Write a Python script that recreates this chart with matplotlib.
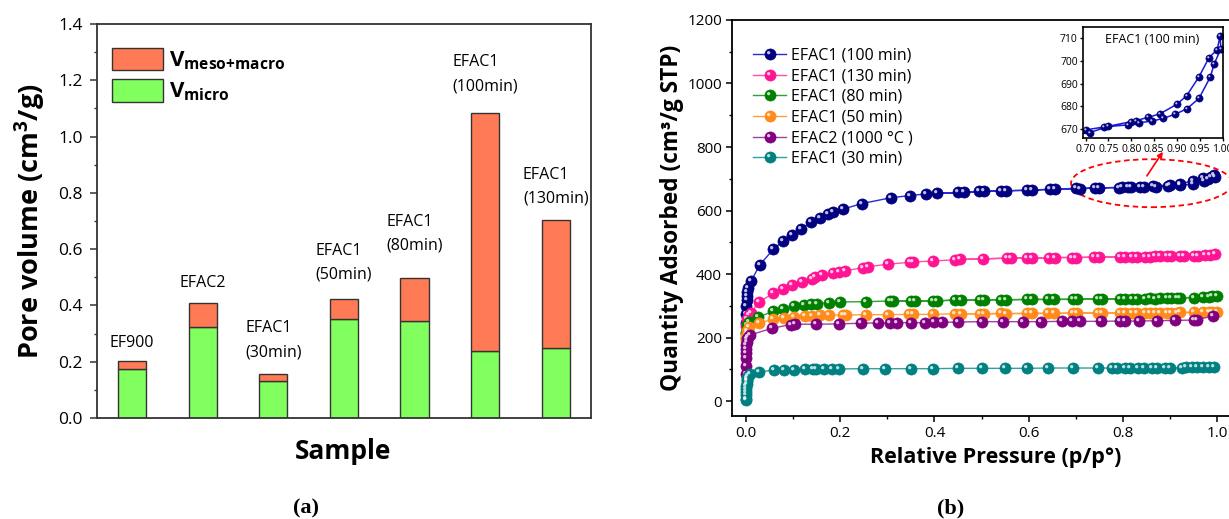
import matplotlib
matplotlib.use('Agg')
import matplotlib.pyplot as plt
from matplotlib.path import Path
from matplotlib.patches import Ellipse
from matplotlib.ticker import MultipleLocator, FormatStrFormatter

plt.rcParams['font.family'] = ['Open Sans', 'DejaVu Sans']
plt.rcParams['mathtext.default'] = 'regular'

# ---------------- (a) pore volume data ----------------
samples = ['EF900', 'EFAC2', 'EFAC1\n(30min)', 'EFAC1\n(50min)', 'EFAC1\n(80min)',
           'EFAC1\n(100min)', 'EFAC1\n(130min)']
v_micro = [0.174, 0.324, 0.133, 0.352, 0.346, 0.239, 0.248]
v_meso = [0.030, 0.086, 0.023, 0.071, 0.153, 0.844, 0.456]
label_y = [0.252, 0.467, 0.220, 0.496, 0.599, 1.165, 0.765]   # baseline of last text line

# ---------------- (b) isotherm data ----------------
p_100 = [0.0001, 0.0003, 0.0006, 0.001, 0.002, 0.003, 0.005, 0.0106, 0.0297, 0.058, 0.079,
         0.097, 0.117, 0.138, 0.157, 0.175, 0.184, 0.205, 0.246, 0.307, 0.347, 0.381, 0.451,
         0.495, 0.541, 0.597, 0.645, 0.700, 0.741, 0.792, 0.817, 0.845, 0.870, 0.895, 0.921,
         0.948, 0.973, 0.981, 0.996, 0.994,
         0.988, 0.970, 0.948, 0.921, 0.900, 0.863, 0.837, 0.810, 0.799, 0.750, 0.709, 0.656,
         0.607, 0.552, 0.506, 0.462, 0.405]
q_100 = [245, 275, 300, 318, 332, 343, 356, 378, 430, 478, 505,
         523, 543, 563, 577, 588, 595, 604, 622, 640, 647, 652, 657,
         660, 662, 664, 667, 669.7, 671, 671.9, 672.9, 673.5, 674.8, 676.5, 678.9,
         683.5, 693, 698.5, 705.4, 710.9,
         705, 701.4, 693, 684.7, 681, 676.8, 675.2, 673.8, 673.3, 671.3, 668.5, 667,
         664, 662, 660, 657, 654]

p_130 = [0.0001, 0.0005, 0.001, 0.003, 0.006, 0.0095, 0.028, 0.058, 0.078, 0.097, 0.118,
         0.139, 0.1465, 0.161, 0.184, 0.198, 0.210, 0.248, 0.258, 0.302, 0.347, 0.355, 0.396,
         0.444, 0.504, 0.553, 0.597, 0.643, 0.693, 0.739, 0.794, 0.819, 0.847, 0.868, 0.893,
         0.922, 0.950, 0.974, 0.996,
         0.985, 0.960, 0.930, 0.902, 0.879, 0.858, 0.829, 0.805, 0.750, 0.701, 0.655, 0.608,
         0.562, 0.454]
q_130 = [215, 235, 245, 258, 270, 277, 313, 339, 352, 365, 374,
         385, 392, 396, 402, 407, 410, 420, 423, 431, 437, 438, 441,
         445, 448, 450, 450, 452, 452, 453, 454, 455, 455, 456, 456,
         457, 458, 459, 462,
         460, 458, 457, 456, 456, 455, 455, 454, 453, 452, 452, 450,
         450, 446]

p_80 = [0.0001, 0.0005, 0.001, 0.003, 0.006, 0.026, 0.058, 0.078, 0.101, 0.124, 0.138,
        0.150, 0.176, 0.199, 0.254, 0.305, 0.351, 0.397,
        0.444, 0.497, 0.541, 0.597, 0.642, 0.695, 0.748, 0.794, 0.819, 0.847, 0.868, 0.893,
        0.916, 0.950, 0.971, 0.989, 0.999,
        0.982, 0.922, 0.902, 0.879, 0.858, 0.829, 0.805, 0.755, 0.702, 0.654, 0.607, 0.552,
        0.505, 0.456, 0.406, 0.358, 0.313]
q_80 = [200, 215, 225, 238, 250, 264, 283, 289, 299, 304, 307,
        307, 310, 312, 313, 315, 315, 315,
        318, 319, 319, 320, 320, 320, 321, 321, 322, 322, 322, 323,
        324, 326, 328, 330, 332,
        329, 325, 324, 323, 323, 322, 322, 321, 321, 320, 320, 319,
        319, 318, 316, 316, 315]

p_50 = [0.0001, 0.0005, 0.001, 0.003, 0.006, 0.028, 0.058, 0.080, 0.102, 0.125, 0.140,
        0.157, 0.176, 0.205, 0.212, 0.254, 0.302, 0.345, 0.355, 0.397,
        0.444, 0.497, 0.541, 0.597, 0.642, 0.695, 0.748, 0.794, 0.819, 0.847, 0.868, 0.893,
        0.916, 0.950, 0.971, 0.989, 0.999,
        0.982, 0.922, 0.902, 0.879, 0.858, 0.829, 0.805, 0.755, 0.702, 0.654, 0.607, 0.552,
        0.505, 0.456]
q_50 = [190, 205, 212, 222, 232, 245, 258, 262, 265, 268, 269,
        270, 270, 271, 271, 272, 272, 273, 273, 273,
        275, 275, 276, 276, 276, 277, 277, 277, 277, 278, 278, 278,
        278, 279, 279, 280, 281,
        280, 279, 278, 278, 278, 277, 277, 277, 276, 276, 276, 275,
        275, 275]

p_efac2 = [0.00001, 0.00003, 0.0001, 0.0002, 0.0004, 0.0007, 0.001, 0.002, 0.004, 0.0085,
           0.0545, 0.095, 0.103, 0.149, 0.197, 0.243, 0.280, 0.306, 0.320, 0.351, 0.380,
           0.398, 0.416, 0.451, 0.500, 0.546, 0.589, 0.627, 0.670, 0.691, 0.709, 0.753,
           0.794, 0.805, 0.835, 0.873, 0.911, 0.950, 0.957, 0.992]
q_efac2 = [85, 110, 135, 150, 165, 177, 185, 195, 202, 208,
           229, 241, 242, 242, 243, 245, 246, 246.7, 247, 247, 247,
           248, 248, 249, 250, 250, 250, 250, 251, 251, 251, 251,
           252, 252, 252, 253, 254, 255, 256, 268]

p_30 = [0.00001, 0.00003, 0.0001, 0.0002, 0.0004, 0.0007, 0.001, 0.0015, 0.002, 0.003,
        0.005, 0.0085, 0.028, 0.060, 0.081, 0.102, 0.125, 0.142, 0.148, 0.166, 0.183,
        0.197, 0.248, 0.296, 0.350, 0.396, 0.451, 0.500, 0.549, 0.597, 0.642, 0.695, 0.748,
        0.776, 0.787, 0.805, 0.816, 0.832, 0.844, 0.862, 0.872, 0.889, 0.900, 0.925, 0.935,
        0.946, 0.957, 0.971, 0.982, 0.993]
q_30 = [2, 8, 18, 28, 38, 48, 55, 62, 67, 73,
        79, 84, 92, 97, 99, 99, 101, 101, 101, 101, 101,
        101, 102, 102, 102, 102, 103, 103, 103, 103, 104, 104, 104,
        104, 104, 104, 104, 104, 105, 105, 105, 105, 105, 105, 106,
        106, 106, 107, 107, 108]

series = [
    (p_100, q_100, 'EFAC1 (100 min)', '#000080', '#2a2ad0'),
    (p_130, q_130, 'EFAC1 (130 min)', '#ff1493', '#ff4fa8'),
    (p_80, q_80, 'EFAC1 (80 min)', '#008000', '#33a033'),
    (p_50, q_50, 'EFAC1 (50 min)', '#ff8c1a', '#ffa040'),
    (p_efac2, q_efac2, 'EFAC2 (1000 °C )', '#800080', '#a040a0'),
    (p_30, q_30, 'EFAC1 (30 min)', '#008080', '#30a0a0'),
]

# inset: zoom on EFAC1 (100 min) high pressure region
p_zoom = p_100[27:52]
q_zoom = q_100[27:52]

# highlight spot for the "sphere" markers
spot = Path.make_compound_path(
    Path([(1, 1), (-1, -1)], [Path.MOVETO, Path.MOVETO]),
    Path.circle(center=(-0.33, 0.33), radius=0.3))

fig = plt.figure(figsize=(12.29, 5.19), dpi=100)

# ================= panel (a) =================
ax1 = fig.add_axes([0.0787, 0.1946, 0.4022, 0.7592])
x = range(1, len(samples) + 1)
b_micro = ax1.bar(x, v_micro, width=0.4, color='#80ff5f', edgecolor='#333333', linewidth=1.0)
b_meso = ax1.bar(x, v_meso, width=0.4, bottom=v_micro, color='#ff7b55',
                 edgecolor='#333333', linewidth=1.0)
for xi, s, ly in zip(x, samples, label_y):
    ax1.text(xi, ly, s, ha='center', va='baseline', multialignment='left',
             fontsize=11.5, linespacing=1.65)
ax1.set_xlim(0.5, 7.5)
ax1.set_ylim(0, 1.4)
ax1.set_xticks([])
ax1.yaxis.set_major_locator(MultipleLocator(0.2))
ax1.yaxis.set_minor_locator(MultipleLocator(0.1))
ax1.yaxis.set_major_formatter(FormatStrFormatter('%.1f'))
ax1.tick_params(axis='y', which='major', direction='out', length=5, width=1.1,
                labelsize=12.5, pad=5, color='#333333')
ax1.tick_params(axis='y', which='minor', direction='out', length=2.5, width=1.0, color='#333333')
for sp in ax1.spines.values():
    sp.set_color('#333333')
    sp.set_linewidth(1.3)
ax1.set_ylabel('Pore volume (cm$^3$/g)', fontsize=19.5, fontweight='bold')
ax1.yaxis.set_label_coords(-0.135, 0.5)
ax1.yaxis.label.set_verticalalignment('center')
ax1.set_xlabel('Sample', fontsize=19, fontweight='bold')
ax1.xaxis.set_label_coords(0.498, -0.086)
ax1.xaxis.label.set_verticalalignment('center')
ax1.legend([b_meso, b_micro], ['V$_{meso{+}macro}$', 'V$_{micro}$'],
           loc='upper left', bbox_to_anchor=(0.030, 0.94), frameon=False,
           prop={'size': 16, 'weight': 'bold'}, handlelength=2.3, handleheight=1.2,
           handletextpad=0.3, labelspacing=0.3, borderpad=0, borderaxespad=0)

# ================= panel (b) =================
ax2 = fig.add_axes([0.5954, 0.1985, 0.4083, 0.763])
handles = []
for p, q, lab, mc, lc in series:
    ln, = ax2.plot(p, q, '-', color=lc, lw=1.0, marker='o', markersize=8,
                   markerfacecolor=mc, markeredgecolor=mc, markeredgewidth=0.5)
    hl, = ax2.plot(p, q, ls='none', marker=spot, markersize=8, markerfacecolor='white',
                   markeredgewidth=0, alpha=0.75)
    handles.append((ln, hl))
ax2.set_xlim(-0.0304, 1.035)
ax2.set_ylim(-47, 1200)
ax2.xaxis.set_major_locator(MultipleLocator(0.2))
ax2.xaxis.set_minor_locator(MultipleLocator(0.1))
ax2.xaxis.set_major_formatter(FormatStrFormatter('%.1f'))
ax2.yaxis.set_major_locator(MultipleLocator(200))
ax2.yaxis.set_minor_locator(MultipleLocator(100))
ax2.tick_params(which='major', direction='out', length=4, width=1.1, labelsize=11, pad=3)
ax2.tick_params(which='minor', direction='out', length=2.5, width=1.0)
for sp in ax2.spines.values():
    sp.set_linewidth(1.3)
ax2.set_ylabel('Quantity Adsorbed (cm³/g STP)', fontsize=16.3, fontweight='bold')
ax2.yaxis.set_label_coords(-0.1196, 0.5)
ax2.yaxis.label.set_verticalalignment('center')
ax2.set_xlabel('Relative Pressure (p/p°)', fontsize=15.5, fontweight='bold')
ax2.xaxis.set_label_coords(0.526, -0.106)
ax2.xaxis.label.set_verticalalignment('center')
ax2.legend(handles, [s[2] for s in series], loc='upper left', bbox_to_anchor=(0.042, 0.93),
           frameon=False, fontsize=11.5, handlelength=2.1, handletextpad=0.3,
           labelspacing=0.29, borderpad=0, borderaxespad=0)

ax2.add_patch(Ellipse((0.861, 686), 0.342, 151, fill=False, edgecolor='red',
                      linestyle=(0, (3, 2)), linewidth=1.3))
ax2.annotate('', xy=(0.885, 785), xytext=(0.851, 709),
             arrowprops=dict(arrowstyle='-|>', color='red', lw=1.2, mutation_scale=8,
                             shrinkA=0, shrinkB=0))

# inset
ax3 = fig.add_axes([0.8815, 0.7335, 0.1134, 0.2150])
ax3.plot(p_zoom, q_zoom, '-', color='#1a1ad8', lw=1.1, marker='o', markersize=5.2,
         markerfacecolor='#000080', markeredgecolor='#000080', markeredgewidth=0.4)
ax3.plot(p_zoom, q_zoom, ls='none', marker=spot, markersize=5.2, markerfacecolor='white',
         markeredgewidth=0, alpha=0.75)
ax3.set_xlim(0.695, 1.0)
ax3.set_ylim(666, 715)
ax3.xaxis.set_major_locator(MultipleLocator(0.05))
ax3.xaxis.set_major_formatter(FormatStrFormatter('%.2f'))
ax3.yaxis.set_major_locator(MultipleLocator(10))
ax3.tick_params(direction='out', length=2.5, width=1.0, labelsize=7.5, pad=1.5)
for sp in ax3.spines.values():
    sp.set_linewidth(1.2)
ax3.text(0.49, 0.887, 'EFAC1 (100 min)', transform=ax3.transAxes, ha='center',
         va='center', fontsize=9)

# panel captions
fig.text(306 / 1229, 1 - 508 / 519, '(a)', ha='center', va='center', fontsize=16,
         fontweight='bold', family='Liberation Serif')
fig.text(950.5 / 1229, 1 - 508 / 519, '(b)', ha='center', va='center', fontsize=16,
         fontweight='bold', family='Liberation Serif')

fig.savefig('out.png', dpi=100)
